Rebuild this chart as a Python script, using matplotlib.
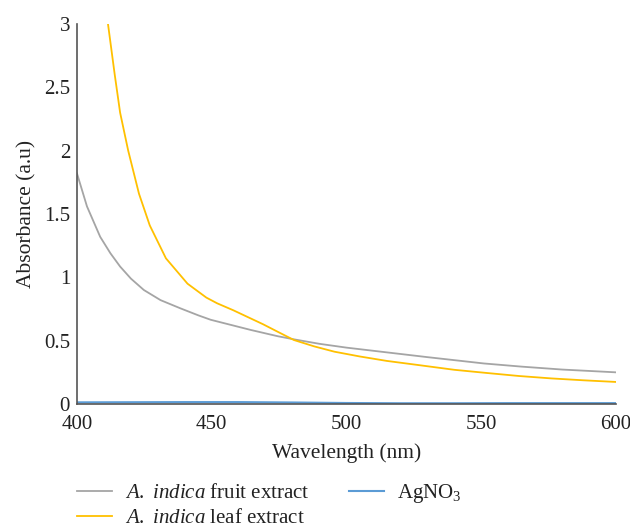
import matplotlib
matplotlib.use("Agg")
import matplotlib.pyplot as plt

plt.rcParams['font.family'] = ['Liberation Serif', 'DejaVu Serif']
plt.rcParams['mathtext.fontset'] = 'custom'
plt.rcParams['mathtext.rm'] = 'Liberation Serif'
plt.rcParams['mathtext.it'] = 'Liberation Serif:italic'

# Data
wl_fruit = [400, 403.7, 408.6, 412.4, 416, 420, 424.8, 431, 438.4, 445, 449.6, 457,
            464.4, 474.5, 480.6, 490, 500, 514, 530, 551, 565, 580, 600]
fruit = [1.82, 1.56, 1.32, 1.19, 1.085, 0.99, 0.90, 0.82, 0.755, 0.70, 0.665, 0.625,
         0.585, 0.535, 0.51, 0.475, 0.445, 0.41, 0.37, 0.32, 0.295, 0.272, 0.25]

wl_leaf = [410, 411.5, 414, 416, 419, 423, 427, 433, 441, 448, 452, 458, 463, 469,
           474.5, 480.5, 488, 495.5, 505, 515, 526.5, 540, 552, 564, 576, 588, 600]
leaf = [3.2, 3.0, 2.6, 2.3, 2.0, 1.66, 1.41, 1.15, 0.95, 0.84, 0.795, 0.74, 0.69, 0.63,
        0.57, 0.505, 0.455, 0.413, 0.375, 0.34, 0.308, 0.27, 0.245, 0.221, 0.202,
        0.187, 0.174]

wl_agno3 = [400, 420, 440, 460, 480, 500, 520, 540, 560, 580, 600]
agno3 = [0.013, 0.014, 0.015, 0.015, 0.012, 0.008, 0.006, 0.006, 0.007, 0.007, 0.007]

x_ticks = [400, 450, 500, 550, 600]
y_ticks = [0, 0.5, 1, 1.5, 2, 2.5, 3]
y_tick_labels = ['0', '0.5', '1', '1.5', '2', '2.5', '3']

W, H = 630, 530
fig = plt.figure(figsize=(6.3, 5.3), dpi=100)
ax = fig.add_axes([77 / W, 1 - 404 / H, (616 - 77) / W, (404 - 24) / H])

ax.plot(wl_fruit, fruit, color='#A5A5A5', lw=1.3, label=r'$\it{A.}$ $\it{indica}$ fruit extract')
ax.plot(wl_leaf, leaf, color='#FFC000', lw=1.3, label=r'$\it{A.}$ $\it{indica}$ leaf extract')
ax.plot(wl_agno3, agno3, color='#5B9BD5', lw=1.5, label=r'AgNO$_3$')

ax.set_xlim(400, 600)
ax.set_ylim(0, 3)
ax.set_xticks(x_ticks)
ax.set_yticks(y_ticks)
ax.set_yticklabels(y_tick_labels)
ax.tick_params(length=0, labelsize=15, colors='#222222')
ax.tick_params(axis='x', pad=8)
ax.tick_params(axis='y', pad=5)

for s in ['top', 'right']:
    ax.spines[s].set_visible(False)
for s in ['left', 'bottom']:
    ax.spines[s].set_color('#555555')
    ax.spines[s].set_linewidth(1.2)

ax.set_xlabel('Wavelength (nm)', fontsize=15.5, color='#222222')
ax.set_ylabel('Absorbance (a.u)', fontsize=15.5, color='#222222')
ax.xaxis.set_label_coords(0.5, (404 - 453) / 380)
ax.xaxis.label.set_va('center')
ax.yaxis.set_label_coords((27 - 77) / 539, 0.5)
ax.yaxis.label.set_va('center')

leg = fig.legend(loc='center left', bbox_to_anchor=(77 / W, 1 - 505 / H), ncol=2,
                 frameon=False, fontsize=15, handlelength=1.68, columnspacing=1.9,
                 labelspacing=0.25, handletextpad=0.62, borderpad=0, borderaxespad=0)
for t in leg.get_texts():
    t.set_color('#222222')

fig.savefig('out.png', dpi=100)
